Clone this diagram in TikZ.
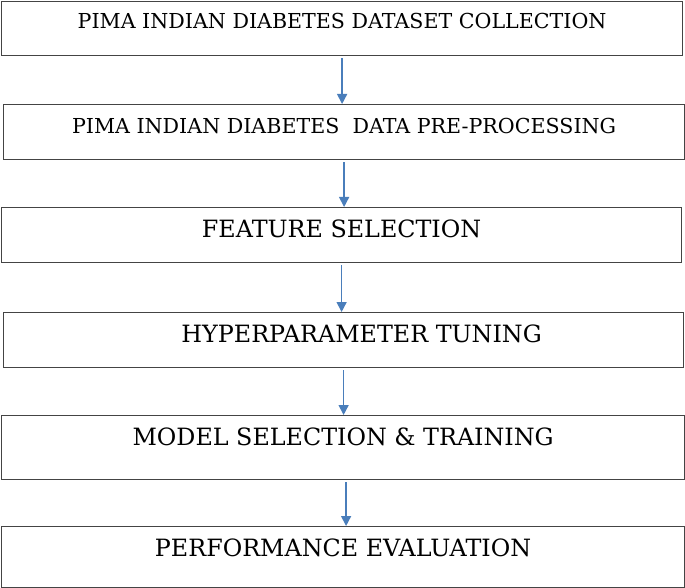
\documentclass[tikz,border=0pt]{standalone}
\usepackage{fontspec}
\setmainfont{DejaVu Serif}
\usepackage{tikz}
\usetikzlibrary{arrows.meta}
\usetikzlibrary{positioning}
\definecolor{boxline}{HTML}{444444}
\definecolor{flowblue}{HTML}{4A7EBB}
\tikzset{stage/.style = {draw=boxline, line width=1.2pt, anchor=north west,
                         inner sep=0pt, align=center},
         flow/.style  = {draw=flowblue, line width=1.5pt, shorten <=2pt,
                         -{Triangle[length=10pt,width=10pt]}}}

\begin{document}
\begin{tikzpicture}[x=1pt, y=-1pt]
  \useasboundingbox (0,0) rectangle (685,588);

  \node[stage, minimum width=681pt, text height=27pt, text depth=27pt,
        font=\fontsize{20.6}{20.6}\selectfont] (collect) at (1,1)
        {PIMA INDIAN DIABETES DATASET COLLECTION};
  \node[stage, minimum width=681pt, text height=29pt, text depth=26pt,
        font=\fontsize{20.6}{20.6}\selectfont] (prep) at (3,104)
        {PIMA INDIAN DIABETES~ DATA PRE-PROCESSING};
  \node[stage, minimum width=680pt, text height=30pt, text depth=25pt,
        font=\fontsize{23.8}{23.8}\selectfont] (feat) at (1,207)
        {FEATURE SELECTION};
  \node[stage, minimum width=680pt, text height=30pt, text depth=25pt,
        font=\fontsize{23.8}{23.8}\selectfont] (tune) at (3,312)
        {\hspace*{36pt}HYPERPARAMETER TUNING};
  \node[stage, minimum width=683pt, text height=30pt, text depth=34pt,
        font=\fontsize{23.8}{23.8}\selectfont] (train) at (1,415)
        {MODEL SELECTION \& TRAINING};
  \node[stage, minimum width=683pt, text height=30pt, text depth=31pt,
        font=\fontsize{23.8}{23.8}\selectfont] (eval) at (1,526)
        {PERFORMANCE EVALUATION};

  \foreach \a/\b in {collect/prep, prep/feat, feat/tune, tune/train}
    \draw[flow] (\a.south) -- (\a.south |- \b.north);
  \draw[flow] ([xshift=3pt]train.south) -- ([xshift=3pt]train.south |- eval.north);
\end{tikzpicture}
\end{document}
